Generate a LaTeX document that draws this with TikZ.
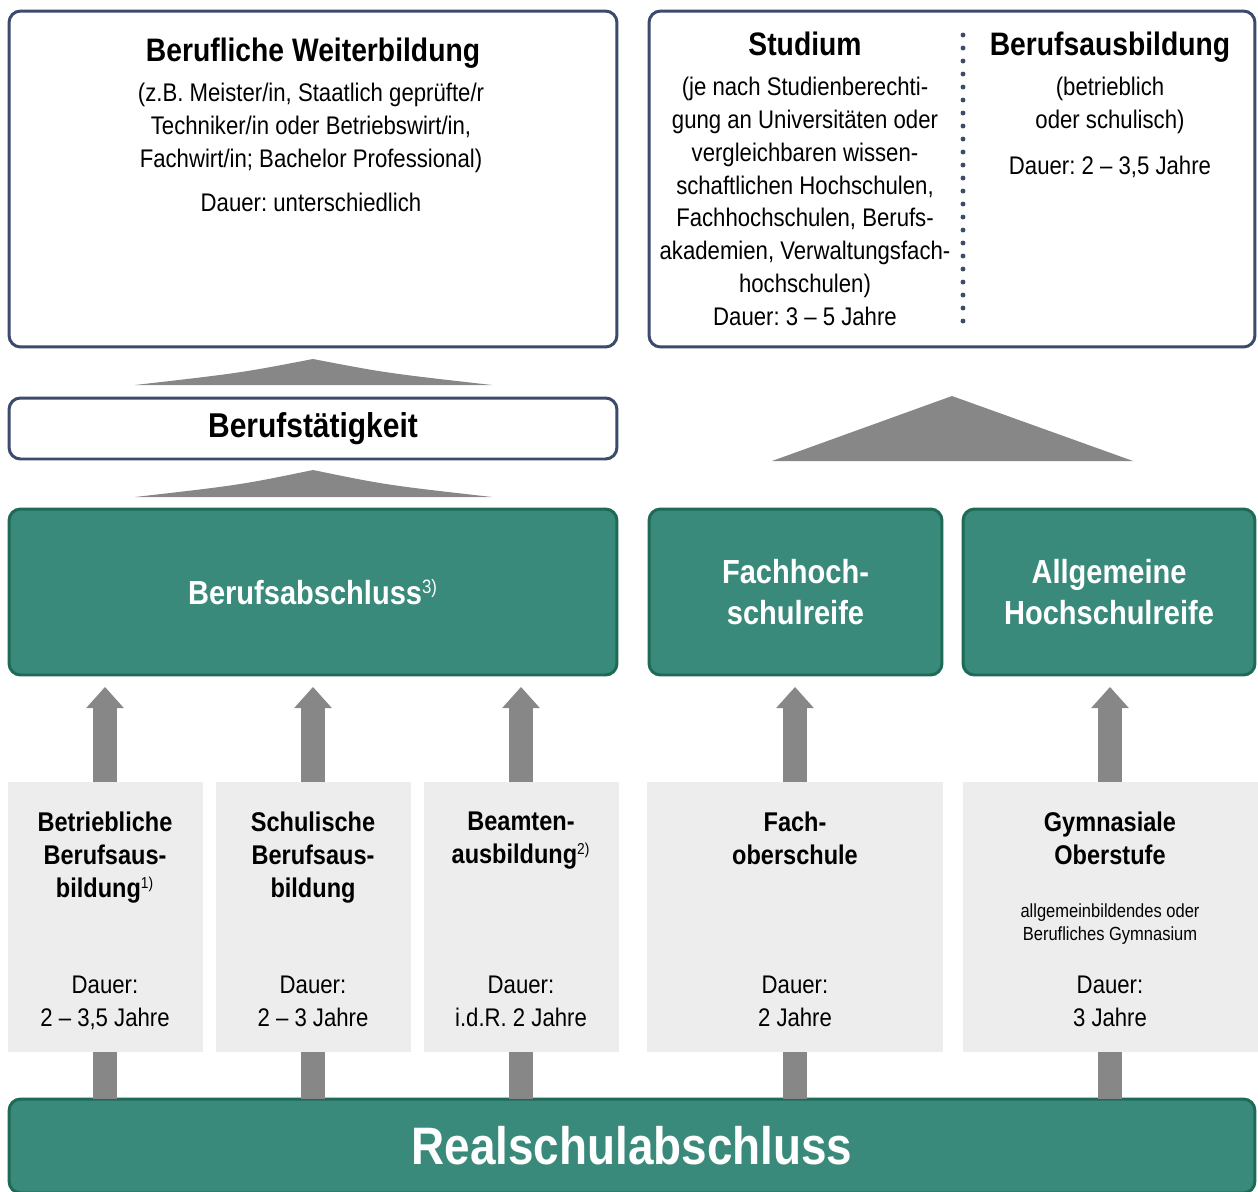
\documentclass[tikz,border=0pt]{standalone}
\usepackage{fontspec}
\setmainfont{Liberation Sans}[FakeStretch=0.87]
\usetikzlibrary{positioning,arrows.meta}
\definecolor{rahmen}{HTML}{3C4A6B}
\definecolor{tealfill}{HTML}{3A8A7B}
\definecolor{tealrand}{HTML}{1D6A56}
\definecolor{pfeil}{HTML}{878787}
\definecolor{hell}{HTML}{EDEDED}
\newcommand\fussnote[2]{\textsuperscript{\mdseries\fontsize{#1}{#1}\selectfont #2}}
\frenchspacing

\begin{document}
\begin{tikzpicture}[x=0.02cm, y=-0.02cm,
    every node/.append style={outer sep=0pt},
    ziel/.style={draw=rahmen, line width=1.7pt, rounded corners=6.5pt, fill=white},
    abschluss/.style={draw=tealrand, line width=1.7pt, rounded corners=6.5pt, fill=tealfill,
      text=white, align=center, font=\bfseries\fontsize{19}{23.8}\selectfont},
    weg/.style={fill=hell, minimum height=5.4cm},
    kopf/.style={anchor=north, inner sep=0pt, font=\bfseries\fontsize{18.5}{22}\selectfont},
    info/.style={anchor=north, inner sep=0pt, align=center, font=\fontsize{14.5}{18.7}\selectfont},
    wegkopf/.style={anchor=north, inner sep=0pt, align=center, font=\bfseries\fontsize{15.4}{18.7}\selectfont},
    klein/.style={anchor=north, inner sep=0pt, align=center, font=\fontsize{10.8}{13}\selectfont},
    hoch/.style={line width=13.6pt, pfeil, -{Triangle[width=21.5pt,length=12pt,line width=0pt]}},
    keil/.style={fill=pfeil}]
  \useasboundingbox (0,0) rectangle (1258,1191);

  % Ziele oben
  \node[ziel, minimum width=12.16cm, minimum height=6.72cm] (weiter) at (313,179) {};
  \node[ziel, minimum width=12.12cm, minimum height=6.72cm] (studium) at (952,179) {};
  \node[ziel, minimum width=12.16cm, minimum height=1.22cm,
    font=\bfseries\fontsize{19.6}{22}\selectfont] (taetig) at (313,428.5) {Berufstätigkeit};

  % Abschluesse
  \node[abschluss, minimum width=12.16cm, minimum height=3.32cm] (berufsab) at (313,592)
    {Berufsabschluss\fussnote{11}{3)}};
  \node[abschluss, minimum width=5.86cm, minimum height=3.32cm] (fhr) at (795.5,592)
    {Fachhoch-\\schulreife};
  \node[abschluss, minimum width=5.84cm, minimum height=3.32cm] (ahr) at (1109,592)
    {Allgemeine\\Hochschulreife};
  \node[abschluss, minimum width=24.92cm, minimum height=1.88cm,
    font=\bfseries\fontsize{30}{36}\selectfont] (real) at (632,1146) {Realschulabschluss};

  % Pfeile
  \coordinate (spitze1) at (105,687);
  \coordinate (spitze2) at (313,687);
  \coordinate (spitze3) at (521,687);
  \coordinate (spitze4) at (795,687);
  \coordinate (spitze5) at (1110,687);
  \foreach \i in {1,...,5}
    \draw[hoch] (real.north -| spitze\i) -- (spitze\i);

  % Bildungswege
  \node[weg, minimum width=3.9cm] (weg1) at (105.5,917) {};
  \node[weg, minimum width=3.9cm] (weg2) at (313.5,917) {};
  \node[weg, minimum width=3.9cm] (weg3) at (521.5,917) {};
  \node[weg, minimum width=5.92cm] (weg4) at (795,917) {};
  \node[weg, minimum width=5.9cm] (weg5) at (1110.5,917) {};

  \node[wegkopf] (weg1-kopf) at (105,812) {Betriebliche\\Berufsaus-\\bildung\fussnote{9}{1)}};
  \node[wegkopf] (weg2-kopf) at (313,812) {Schulische\\Berufsaus-\\bildung};
  \node[wegkopf] (weg3-kopf) at (521,812) {Beamten-\\ausbildung\fussnote{9}{2)}};
  \node[wegkopf] (weg4-kopf) at (795,812) {Fach-\\oberschule};
  \node[wegkopf] (weg5-kopf) at (1110,812) {Gymnasiale\\Oberstufe};
  \node[klein] (weg5-zusatz) at (1110,904) {allgemeinbildendes oder\\Berufliches Gymnasium};

  \node[info] (weg1-dauer) at (105,976) {Dauer:\\2 – 3,5 Jahre};
  \node[info] (weg2-dauer) at (313,976) {Dauer:\\2 – 3 Jahre};
  \node[info] (weg3-dauer) at (521,976) {Dauer:\\i.d.R. 2 Jahre};
  \node[info] (weg4-dauer) at (795,976) {Dauer:\\2 Jahre};
  \node[info] (weg5-dauer) at (1110,976) {Dauer:\\3 Jahre};

  % Texte oben
  \node[kopf] (weiter-kopf) at (313,38) {Berufliche Weiterbildung};
  \node[info] (weiter-text) at (311,83) {(z.B. Meister/in, Staatlich geprüfte/r\\Techniker/in oder Betriebswirt/in,\\Fachwirt/in; Bachelor Professional)\\[6.8pt]Dauer: unterschiedlich};
  \node[kopf] (studium-kopf) at (805,32) {Studium};
  \node[info] (studium-text) at (805,77) {(je nach Studienberechti-\\gung an Universitäten oder\\vergleichbaren wissen-\\schaftlichen Hochschulen,\\Fachhochschulen, Berufs-\\akademien, Verwaltungsfach-\\hochschulen)\\Dauer: 3 – 5 Jahre};
  \node[kopf] (ausb-kopf) at (1110,32) {Berufsausbildung};
  \node[info] (ausb-text) at (1110,77) {(betrieblich\\oder schulisch)\\[7.4pt]Dauer: 2 – 3,5 Jahre};
  \draw[rahmen, line width=2.8pt, line cap=round, dash pattern=on 0pt off 7.4pt] (963,35) -- (963,325);

  % Keile
  \fill[keil] (135,385) .. controls (240,373) .. (313,359) .. controls (386,373) .. (492,385) -- cycle;
  \fill[keil] (135,497) .. controls (240,485) .. (313,470) .. controls (386,485) .. (492,497) -- cycle;
  \fill[keil] (772,461) -- (952,396) -- (1133,461) -- cycle;
\end{tikzpicture}
\end{document}
